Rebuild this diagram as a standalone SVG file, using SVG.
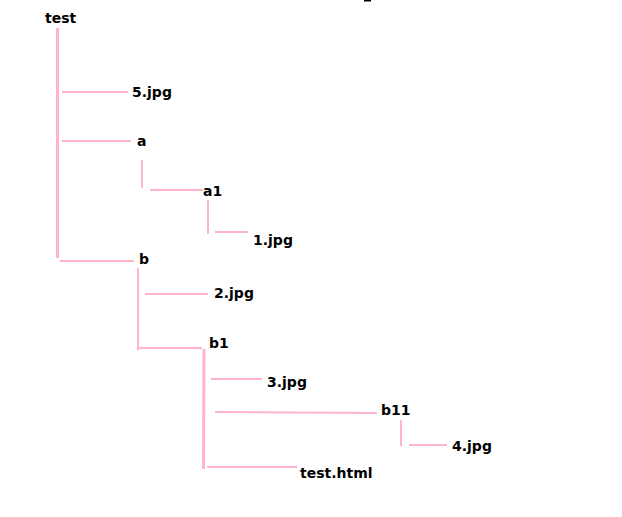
<svg xmlns="http://www.w3.org/2000/svg" width="622" height="517" viewBox="0 0 622 517">
<style>
.l{stroke:#ffb3cc;fill:none;stroke-width:2}
.t{stroke-width:3}
text{font-family:"DejaVu Sans",Verdana,sans-serif;font-weight:bold;font-size:14px;fill:#000}
</style>
<rect width="622" height="517" fill="#fff"/>
<rect x="364" y="0" width="7" height="1.5" fill="#000"/>
<g id="connectors">
<line class="l t" x1="57.5" y1="28" x2="57.5" y2="258"/>
<line class="l" x1="62" y1="92" x2="128" y2="92"/>
<line class="l" x1="62" y1="141" x2="131" y2="141"/>
<line class="l" x1="142" y1="160" x2="142" y2="188"/>
<line class="l" x1="150" y1="190" x2="203" y2="190"/>
<line class="l" x1="208" y1="200" x2="208" y2="234"/>
<line class="l" x1="215" y1="232" x2="248" y2="232"/>
<line class="l" x1="60" y1="261" x2="134" y2="261"/>
<line class="l" x1="138" y1="268" x2="138" y2="350"/>
<line class="l" x1="145" y1="294" x2="208" y2="294"/>
<line class="l" x1="138" y1="348" x2="202" y2="348"/>
<line class="l t" x1="204" y1="349" x2="203.5" y2="469"/>
<line class="l" x1="211" y1="379" x2="262" y2="379"/>
<line class="l" x1="215" y1="412" x2="377" y2="413"/>
<line class="l" x1="401" y1="420" x2="401" y2="446"/>
<line class="l" x1="409" y1="445" x2="447" y2="445"/>
<line class="l" x1="207" y1="467" x2="297" y2="467"/>
</g>
<g id="test"><text x="45" y="23">test</text></g>
<g id="f5"><text x="132" y="97">5.jpg</text></g>
<g id="a"><text x="137" y="146">a</text></g>
<g id="a1"><text x="203" y="196">a1</text></g>
<g id="f1"><text x="253" y="245">1.jpg</text></g>
<g id="b"><text x="139" y="264">b</text></g>
<g id="f2"><text x="214" y="298">2.jpg</text></g>
<g id="b1"><text x="209" y="348">b1</text></g>
<g id="f3"><text x="267" y="387">3.jpg</text></g>
<g id="b11"><text x="381" y="415">b11</text></g>
<g id="f4"><text x="452" y="451">4.jpg</text></g>
<g id="html"><text x="300" y="478">test.html</text></g>
</svg>
